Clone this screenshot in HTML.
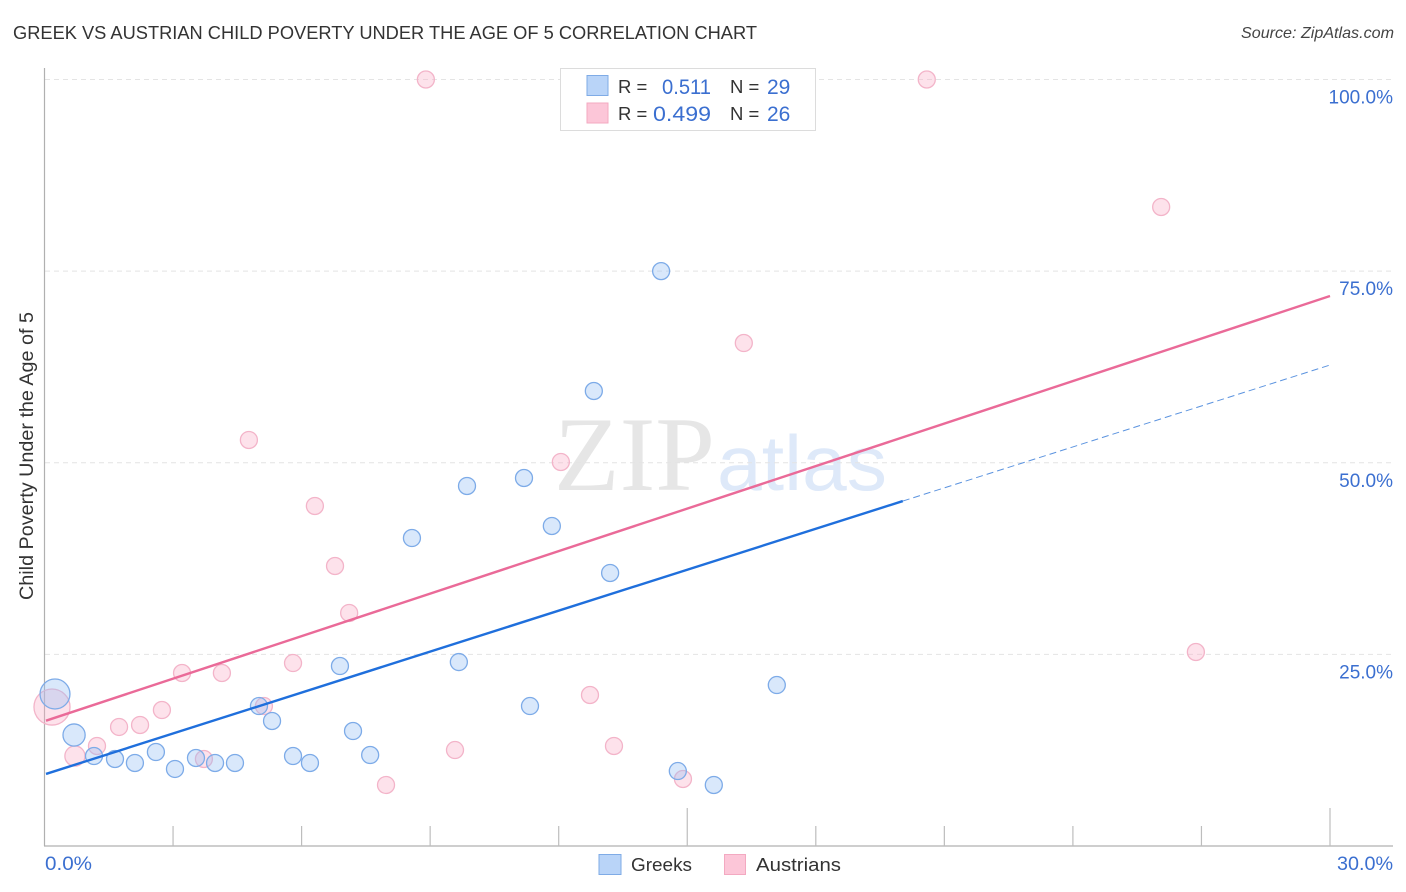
<!DOCTYPE html>
<html lang="en">
<head>
<meta charset="utf-8">
<title>Greek vs Austrian Child Poverty Under the Age of 5 Correlation Chart</title>
<style>
html,body{margin:0;padding:0;background:#fff;width:1406px;height:892px;overflow:hidden}
svg{display:block}
text{font-family:"Liberation Sans",sans-serif}
</style>
</head>
<body>
<svg id="chart" xmlns="http://www.w3.org/2000/svg" width="1406" height="892" viewBox="0 0 1406 892">
  <rect x="0" y="0" width="1406" height="892" fill="#fff"/>
  <text x="13" y="39" font-size="18.5" fill="#333" textLength="744" lengthAdjust="spacingAndGlyphs">GREEK VS AUSTRIAN CHILD POVERTY UNDER THE AGE OF 5 CORRELATION CHART</text>
  <text x="1394" y="38" font-size="16" font-style="italic" fill="#444" text-anchor="end" textLength="153" lengthAdjust="spacingAndGlyphs">Source: ZipAtlas.com</text>

  <g>
    <text x="554" y="490" style="font-family:'Liberation Serif',serif" font-size="106" fill="#e6e6e6" textLength="161" lengthAdjust="spacingAndGlyphs">ZIP</text>
    <text x="717" y="490" font-size="78" fill="#deE9f9" textLength="170" lengthAdjust="spacingAndGlyphs">atlas</text>
  </g>

  <g id="grid"></g>
  <g id="axes"></g>
  <g id="marks"></g>
  <g id="trends"></g>

  <text transform="translate(33,456) rotate(-90)" font-size="19" fill="#333" text-anchor="middle" textLength="288" lengthAdjust="spacingAndGlyphs">Child Poverty Under the Age of 5</text>

  <g>
    <rect x="560.5" y="68.5" width="255" height="62" fill="#fff" stroke="#dcdcdc" stroke-width="1"/>
    <rect x="587" y="75.5" width="21" height="20" fill="#b9d4f8" stroke="#7fabe6"/>
    <rect x="587" y="103" width="21" height="20" fill="#fcc6d8" stroke="#f3a9c1"/>
    <text x="618" y="93" font-size="18.5" fill="#333">R =</text>
    <text x="662" y="94" font-size="21" fill="#3b6fd0" textLength="49" lengthAdjust="spacingAndGlyphs">0.511</text>
    <text x="730" y="93" font-size="18.5" fill="#333">N =</text>
    <text x="767" y="94" font-size="21" fill="#3b6fd0">29</text>
    <text x="618" y="120" font-size="18.5" fill="#333">R =</text>
    <text x="653" y="121" font-size="21" fill="#3b6fd0" textLength="58" lengthAdjust="spacingAndGlyphs">0.499</text>
    <text x="730" y="120" font-size="18.5" fill="#333">N =</text>
    <text x="767" y="121" font-size="21" fill="#3b6fd0">26</text>
  </g>

  <g>
    <rect x="599" y="854.5" width="22" height="20" fill="#b9d4f8" stroke="#7fabe6"/>
    <text x="631" y="871" font-size="18.5" fill="#333" textLength="61" lengthAdjust="spacingAndGlyphs">Greeks</text>
    <rect x="724.5" y="854.5" width="21" height="20" fill="#fcc6d8" stroke="#f3a9c1"/>
    <text x="756" y="871" font-size="18.5" fill="#333" textLength="85" lengthAdjust="spacingAndGlyphs">Austrians</text>
  </g>
</svg>
<script>
const xTickValues = [0, 3, 6, 9, 12, 15, 18, 21, 24, 27, 30];
const xMajorTicks = [0, 15, 30];
const xTickLabels = ["0.0%", "30.0%"];
const yTickValues = [25, 50, 75, 100];
const yTickLabels = ["25.0%", "50.0%", "75.0%", "100.0%"];

const greekX = [0.245, 0.69, 1.155, 1.645, 2.11, 2.6, 3.045, 3.535, 3.98, 4.445, 5.005, 5.31, 5.8, 6.195, 6.895, 7.2, 7.6, 8.575, 9.67, 9.86, 11.19, 11.33, 11.84, 12.82, 13.2, 14.39, 14.78, 15.62, 17.09];
const greekY = [19.83, 14.48, 11.74, 11.35, 10.83, 12.26, 10.05, 11.48, 10.83, 10.83, 18.26, 16.31, 11.74, 10.83, 23.48, 15.0, 11.87, 40.18, 24.0, 46.97, 48.01, 18.26, 41.75, 59.36, 35.62, 75.0, 9.78, 7.96, 21.0];
const greekWeight = [3.1, 1.7, 1, 1, 1, 1, 1, 1, 1, 1, 1, 1, 1, 1, 1, 1, 1, 1, 1, 1, 1, 1, 1, 1, 1, 1, 1, 1, 1];

const austrianX = [0.175, 0.71, 1.225, 1.74, 2.23, 2.74, 3.21, 3.72, 4.14, 4.77, 5.12, 5.8, 6.31, 6.78, 7.11, 7.97, 8.9, 9.58, 12.05, 12.73, 13.29, 14.9, 16.32, 20.59, 26.06, 26.87];
const austrianY = [18.13, 11.74, 13.05, 15.53, 15.79, 17.74, 22.57, 11.35, 22.57, 52.97, 18.26, 23.87, 44.36, 36.53, 30.4, 7.96, 100, 12.52, 50.1, 19.7, 13.05, 8.74, 65.62, 100, 83.37, 25.31];
const austrianWeight = [4.5, 1.4, 1, 1, 1, 1, 1, 1, 1, 1, 1, 1, 1, 1, 1, 1, 1, 1, 1, 1, 1, 1, 1, 1, 1, 1];

const greekTrendX = [0.035, 20.03];
const greekTrendY = [9.4, 45.0];
const greekForecastX = [20.03, 30];
const greekForecastY = [45.0, 62.75];
const austrianTrendX = [0.035, 30];
const austrianTrendY = [16.35, 71.75];

const NS = "http://www.w3.org/2000/svg";
const xScale = v => 44.5 + v * (1330 - 44.5) / 30;
const yScale = v => 846 - v * (846 - 79.5) / 100;

function svgEl(parent, tag, props, text) {
  const el = document.createElementNS(NS, tag);
  for (const k in props) el.setAttribute(k, props[k]);
  if (text !== undefined) el.textContent = text;
  parent.appendChild(el);
  return el;
}

const gridG = document.getElementById("grid");
const axesG = document.getElementById("axes");
const marksG = document.getElementById("marks");
const trendsG = document.getElementById("trends");

yTickValues.forEach((v, i) => {
  const line = svgEl(gridG, "line", {x1: 45, x2: 1393, y1: yScale(v), y2: yScale(v), stroke: "#e4e4e4", "stroke-width": 1, "stroke-dasharray": "5 4"});
  
  
  const label = svgEl(axesG, "text", {x: 1393, y: yScale(v) + 24, "font-size": 19, fill: "#3b6fd0", "text-anchor": "end"}, yTickLabels[i]);
  
  
});

const yAxisLine = svgEl(axesG, "line", {x1: 44.5, x2: 44.5, y1: 68, y2: 846, stroke: "#b0b0b0", "stroke-width": 1.2});


const xAxisLine = svgEl(axesG, "line", {x1: 44, x2: 1393, y1: 846, y2: 846, stroke: "#b0b0b0", "stroke-width": 1.2});



xTickValues.forEach(v => {
  if (v === 0) return;
  const top = xMajorTicks.includes(v) ? 808 : 826;
  const tick = svgEl(axesG, "line", {x1: xScale(v), x2: xScale(v), y1: top, y2: 846, stroke: "#bdbdbd", "stroke-width": 1.2});
  
  
});

const xLabelFirst = svgEl(axesG, "text", {x: 45, y: 870, "font-size": 19, fill: "#3b6fd0", textLength: 47, lengthAdjust: "spacingAndGlyphs"}, xTickLabels[0]);


const xLabelLast = svgEl(axesG, "text", {x: 1337, y: 870, "font-size": 19, fill: "#3b6fd0", textLength: 56, lengthAdjust: "spacingAndGlyphs"}, xTickLabels[1]);



austrianX.forEach((v, i) => {
  const dot = svgEl(marksG, "circle", {cx: xScale(v), cy: yScale(austrianY[i]), r: 8.5 * Math.sqrt(austrianWeight[i]), fill: "rgba(250,175,200,0.36)", stroke: "#f3b4c9", "stroke-width": 1.3});
  
  
});
greekX.forEach((v, i) => {
  const dot = svgEl(marksG, "circle", {cx: xScale(v), cy: yScale(greekY[i]), r: 8.5 * Math.sqrt(greekWeight[i]), fill: "rgba(150,190,245,0.36)", stroke: "#7dabe8", "stroke-width": 1.3});
  
  
});

const greekForecast = svgEl(trendsG, "line", {x1: xScale(greekForecastX[0]), y1: yScale(greekForecastY[0]), x2: xScale(greekForecastX[1]), y2: yScale(greekForecastY[1]), stroke: "#5b93df", "stroke-width": 1, "stroke-dasharray": "7 4"});


const greekTrend = svgEl(trendsG, "line", {x1: xScale(greekTrendX[0]), y1: yScale(greekTrendY[0]), x2: xScale(greekTrendX[1]), y2: yScale(greekTrendY[1]), stroke: "#1f6fdc", "stroke-width": 2.4});


const austrianTrend = svgEl(trendsG, "line", {x1: xScale(austrianTrendX[0]), y1: yScale(austrianTrendY[0]), x2: xScale(austrianTrendX[1]), y2: yScale(austrianTrendY[1]), stroke: "#ea6a98", "stroke-width": 2.4});


</script>
</body>
</html>
